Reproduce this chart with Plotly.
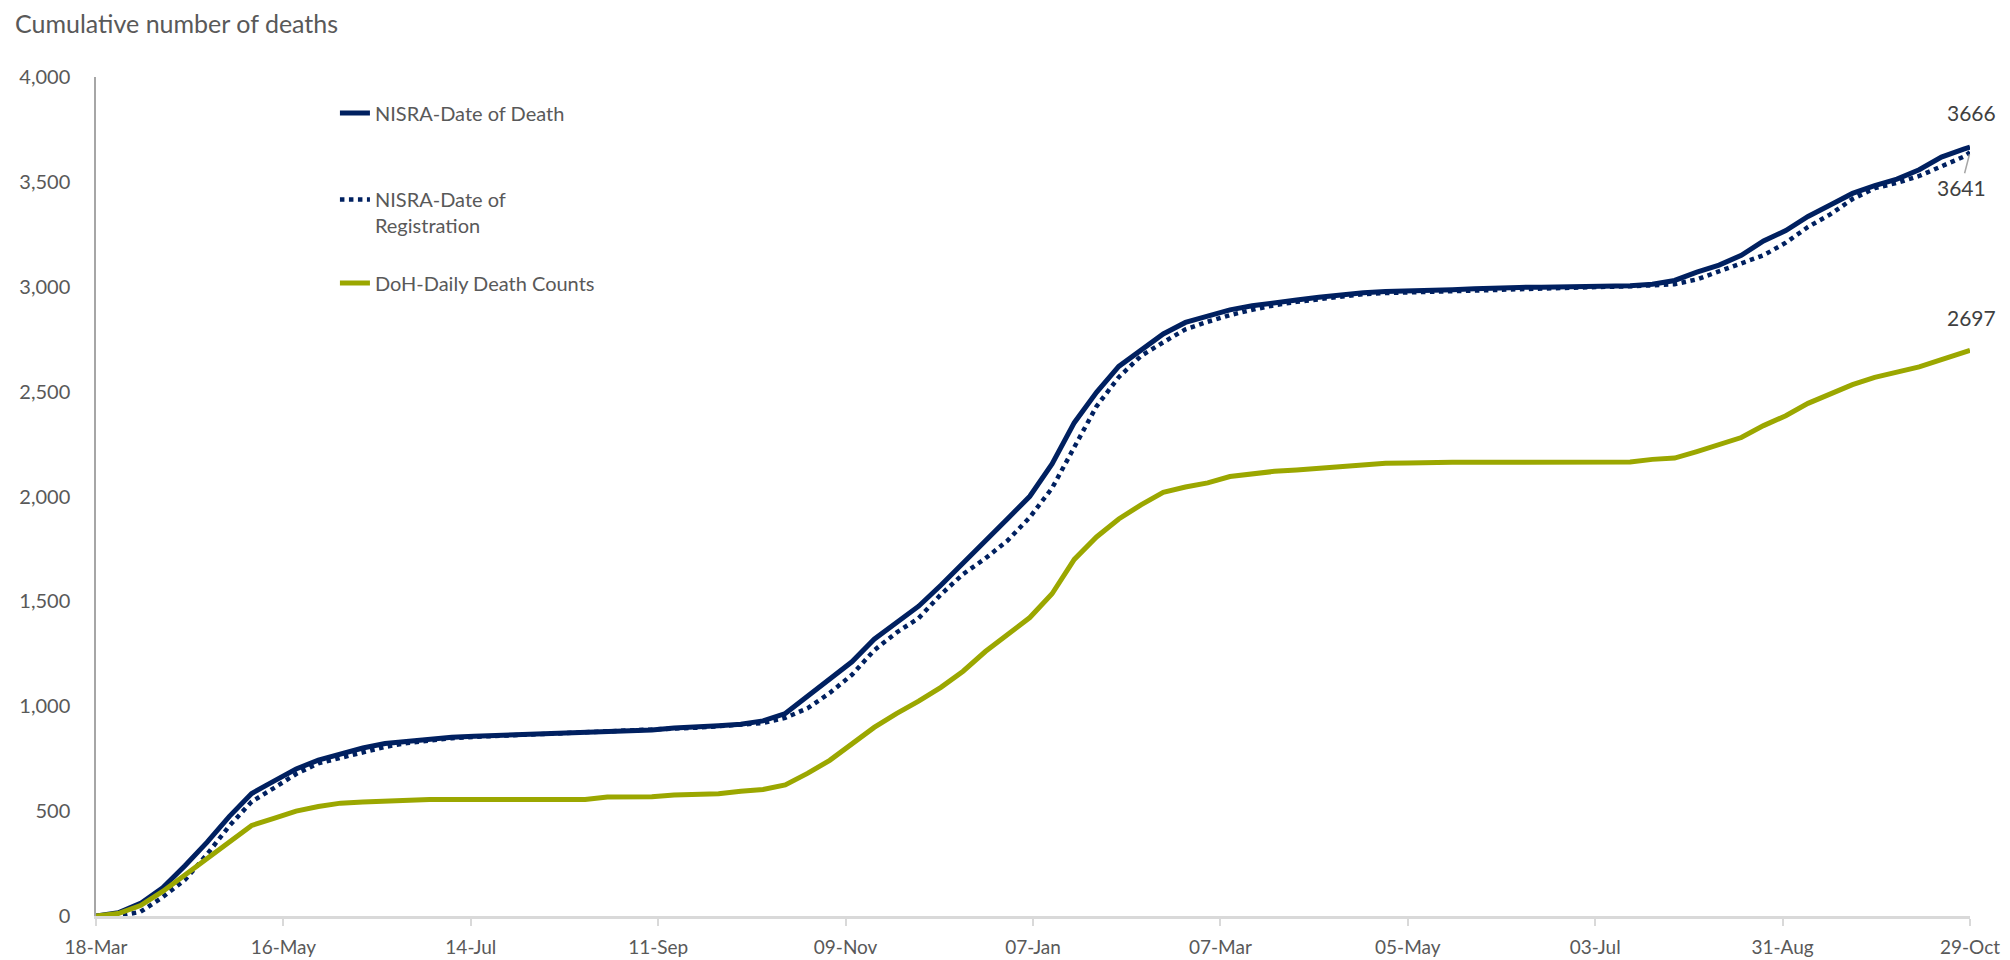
import pandas as pd
import plotly.graph_objects as go

# ---- data ----
week_dates = list(pd.date_range("2020-03-18", "2021-10-27", freq="7D").strftime("%Y-%m-%d")) + ["2021-10-29"]

nisra_death = [0, 15, 60, 135, 240, 352, 475, 584, 643, 701, 743, 775, 801, 822, 833, 843, 852, 857, 861, 865,
               869, 872, 875, 878, 883, 887, 896, 900, 907, 914, 930, 965, 1045, 1130, 1212, 1320, 1400, 1477, 1577, 1680,
               1790, 1894, 2001, 2155, 2352, 2497, 2620, 2700, 2775, 2830, 2863, 2890, 2909, 2926, 2937, 2950, 2961, 2971, 2977, 2979,
               2981, 2986, 2991, 2996, 2997, 2998, 2999, 3000, 3002, 3005, 3012, 3030, 3070, 3103, 3150, 3218, 3268, 3335, 3390, 3445,
               3482, 3513, 3558, 3618, 3656, 3666]

nisra_registration = [0, 0, 20, 90, 172, 295, 430, 545, 610, 677, 728, 755, 783, 806, 825, 838, 848, 854, 858, 862,
                      866, 870, 874, 878, 882, 886, 892, 898, 905, 911, 920, 945, 990, 1063, 1150, 1267, 1351, 1420, 1533, 1630,
                      1705, 1790, 1901, 2040, 2235, 2430, 2569, 2670, 2735, 2797, 2833, 2865, 2890, 2912, 2928, 2942, 2955, 2965, 2970, 2973,
                      2976, 2979, 2982, 2988, 2993, 2995, 2997, 2998, 3000, 3002, 3006, 3012, 3035, 3073, 3112, 3150, 3210, 3285, 3345, 3418,
                      3470, 3495, 3528, 3572, 3620, 3641]

doh_daily = [0, 12, 50, 117, 196, 275, 358, 432, 465, 500, 522, 538, 543, 548, 553, 555, 555, 555, 555, 555,
             555, 555, 555, 567, 568, 568, 577, 579, 583, 595, 603, 625, 680, 742, 823, 899, 965, 1024, 1090, 1167,
             1261, 1340, 1423, 1536, 1700, 1807, 1893, 1960, 2020, 2045, 2065, 2095, 2109, 2120, 2126, 2134, 2142, 2155, 2158, 2160,
             2163, 2163, 2163, 2163, 2163, 2163, 2163, 2163, 2163, 2165, 2177, 2183, 2214, 2250, 2281, 2338, 2385, 2444, 2486, 2533,
             2568, 2592, 2618, 2652, 2688, 2697]

tick_dates = ["2020-03-18", "2020-05-16", "2020-07-14", "2020-09-11", "2020-11-09", "2021-01-07",
              "2021-03-07", "2021-05-05", "2021-07-03", "2021-08-31", "2021-10-29"]
tick_labels = ["18-Mar", "16-May", "14-Jul", "11-Sep", "09-Nov", "07-Jan",
               "07-Mar", "05-May", "03-Jul", "31-Aug", "29-Oct"]

series_names = ["NISRA-Date of Death", "NISRA-Date of<br>Registration", "DoH-Daily Death Counts"]

NAVY = "#002060"
GREEN = "#9BA700"
TXT = "#595959"
FONT = "Lato"

fig = go.Figure()
fig.add_trace(go.Scatter(x=week_dates, y=nisra_death, mode="lines", name=series_names[0],
                         line=dict(color=NAVY, width=5), legend="legend"))
fig.add_trace(go.Scatter(x=week_dates, y=nisra_registration, mode="lines", name=series_names[1],
                         line=dict(color=NAVY, width=4.5, dash="dot"), legend="legend2"))
fig.add_trace(go.Scatter(x=week_dates, y=doh_daily, mode="lines", name=series_names[2],
                         line=dict(color=GREEN, width=5), legend="legend3"))

leg_common = dict(font=dict(family=FONT, size=20, color=TXT), bgcolor="rgba(0,0,0,0)",
                  xanchor="left", yanchor="middle", x=0.1275, valign="top")

fig.update_layout(
    width=2010, height=960,
    margin=dict(l=96, r=40, t=77, b=44, autoexpand=False),
    paper_bgcolor="white", plot_bgcolor="white",
    font=dict(family=FONT, size=20, color=TXT),
    title=dict(text="Cumulative number of deaths", x=15 / 2010, xanchor="left",
               y=1 - 24 / 960, yanchor="middle", xref="container", yref="container",
               pad=dict(l=0, r=0, t=0, b=0),
               font=dict(family=FONT, size=25, color=TXT)),
    legend=dict(**leg_common, y=0.957),
    legend2=dict(**leg_common, y=0.8385),
    legend3=dict(**leg_common, y=0.7545),
    showlegend=True,
)

fig.update_xaxes(type="date", range=[tick_dates[0], tick_dates[-1]],
                 tickvals=tick_dates, ticktext=tick_labels, automargin=False,
                 ticks="outside", ticklen=7, tickwidth=2, tickcolor="#D9D9D9",
                 showline=True, linecolor="#D9D9D9", linewidth=2.5,
                 showgrid=False, zeroline=False, ticklabelstandoff=5,
                 tickfont=dict(family=FONT, size=19, color=TXT))
fig.update_yaxes(range=[0, 4000], dtick=500, tickformat=",", ticks="", automargin=False,
                 showline=True, linecolor="#A6A6A6", linewidth=1.5,
                 showgrid=False, zeroline=False, ticklabelstandoff=20,
                 tickfont=dict(family=FONT, size=20, color=TXT))

LBL = dict(family=FONT, size=21, color="#404040")
fig.add_annotation(x=week_dates[-1], y=nisra_death[-1], text=str(nisra_death[-1]),
                   showarrow=False, yshift=35, xshift=1, font=LBL)
fig.add_annotation(x=week_dates[-1], y=nisra_registration[-1], text=str(nisra_registration[-1]),
                   showarrow=True, arrowhead=0, arrowwidth=1.5, arrowcolor="#A6A6A6",
                   ax=-9, ay=35, standoff=2, font=LBL)
fig.add_annotation(x=week_dates[-1], y=doh_daily[-1], text=str(doh_daily[-1]),
                   showarrow=False, yshift=33, xshift=1, font=LBL)

fig.write_html("out.html", config={"displayModeBar": False},
               post_script="document.body.style.margin='0';document.body.style.overflow='hidden';")
